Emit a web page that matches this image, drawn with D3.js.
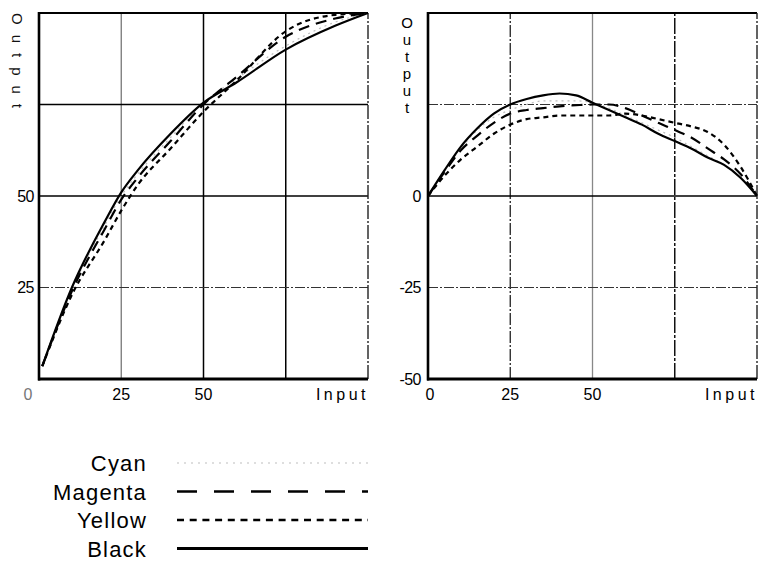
<!DOCTYPE html>
<html><head><meta charset="utf-8">
<script src="https://cdn.jsdelivr.net/npm/d3@7"></script>
<style>
html,body{margin:0;padding:0;background:#fff;}
svg{display:block;font-family:Arial,"Liberation Sans",sans-serif;}
</style></head>
<body><svg id="c" width="761" height="565"></svg>
<script>
// ---------- data ----------
const seriesNames = ["Cyan","Magenta","Yellow","Black"];
const inputsL = [1,10,20,25,30,40,50,60,75,90,100];
const cyanL    = [3.5,24.5,42,50,56,66,75.5,82,91,97.5,100];
const magentaL = [3.5,24,41,49,55,65,75,82.5,93.5,98.5,100];
const yellowL  = [3.5,23,38,46,53,63,73,81.5,95,99.5,100];
const blackL   = [3.5,25,43,51,57,67,75.5,81,90,96.5,100];

const inputsR  = [0,5,10,15,20,25,30,35,40,45,50,55,60,65,70,75,80,85,90,95,100];
const cyanR    = [0,7,13,18,21.5,23.5,25,26,26,26,25.5,24,22,20,18,16,13.5,11,8.5,5,0];
const magentaR = [0,6.5,12.5,16.5,20,22.5,23.5,24,24.5,24.8,25,25,24,22,20,18,16,13,10,6,0];
const yellowR  = [0,5.5,10,13.5,17,19.5,21,21.5,22,22,22,22,22.5,22,21,20,19,17.5,14,8,0];
const blackR   = [0,7,13.5,18.5,22.5,25,26.5,27.5,28,27.5,25.5,23.5,21.5,19.5,17,15,13,10.5,8.5,5,0];

const xTicksL = [0,25,50];
const yTicksL = [25,50];
const xTicksR = [0,25,50];
const yTicksR = [0,-25,-50];
const axisTitleX = "Input";
const axisTitleY = "Output";

// ---------- styles ----------
const lineStyle = {
  Cyan:    {stroke:"#bdbdbd", width:1.2, dash:"2,4",  legendDash:"2,5",  legendWidth:1.2},
  Magenta: {stroke:"#000", width:2.2, dash:"11,7", legendDash:"20,17", legendWidth:2.6},
  Yellow:  {stroke:"#000", width:2.2, dash:"5,4",  legendDash:"7,5.7", legendWidth:2.6},
  Black:   {stroke:"#000", width:2.2, dash:null,   legendDash:null,    legendWidth:3.2}
};

const svg = d3.select("#c");

function panel(opt){
  const x = d3.scaleLinear().domain([0,100]).range([opt.x0,opt.x1]);
  const y = d3.scaleLinear().domain(opt.ydom).range([379,13]);
  const g = svg.append("g");
  // grid
  opt.vgrid.forEach(v=>{
    g.append("line").attr("x1",x(v.v)).attr("x2",x(v.v)).attr("y1",y(opt.ydom[0])).attr("y2",y(opt.ydom[1]))
      .attr("stroke",v.c).attr("stroke-width",v.w).attr("stroke-dasharray",v.d);
  });
  opt.hgrid.forEach(v=>{
    g.append("line").attr("x1",x(0)).attr("x2",x(100)).attr("y1",y(v.v)).attr("y2",y(v.v))
      .attr("stroke",v.c).attr("stroke-width",v.w).attr("stroke-dasharray",v.d);
  });
  // frame
  g.append("line").attr("x1",x(0)).attr("x2",x(100)).attr("y1",y(opt.ydom[1])).attr("y2",y(opt.ydom[1]))
    .attr("stroke","#000").attr("stroke-width",2);
  g.append("line").attr("x1",x(100)).attr("x2",x(100)).attr("y1",y(opt.ydom[0])).attr("y2",y(opt.ydom[1]))
    .attr("stroke","#222").attr("stroke-width",1.4).attr("stroke-dasharray","14,2,2,2");
  g.append("line").attr("x1",x(0)).attr("x2",x(0)).attr("y1",y(opt.ydom[0])+1.5).attr("y2",y(opt.ydom[1])-1)
    .attr("stroke","#000").attr("stroke-width",2.6);
  g.append("line").attr("x1",x(0)-1).attr("x2",x(100)).attr("y1",y(opt.ydom[0])).attr("y2",y(opt.ydom[0]))
    .attr("stroke","#000").attr("stroke-width",3);
  // curves
  const line = d3.line().x(d=>x(d[0])).y(d=>y(d[1])).curve(d3.curveMonotoneX);
  seriesNames.forEach(n=>{
    const vals = opt.series[n];
    const pts = opt.inputs.map((v,i)=>[v,vals[i]]);
    const s = lineStyle[n];
    g.append("path").attr("d",line(pts)).attr("fill","none").attr("stroke",s.stroke)
      .attr("stroke-width",s.width).attr("stroke-dasharray",s.dash).attr("stroke-linecap","butt");
  });
  // tick labels
  opt.xticks.forEach(t=>{
    g.append("text").attr("x",x(t)+(t===0?opt.zeroDx:0)).attr("y",400).attr("text-anchor","middle")
      .attr("font-size",16).attr("fill",t===0&&opt.zeroFaint?"#777":"#000").text(t);
  });
  g.append("text").attr("x",x(100)+1).attr("y",400).attr("text-anchor","end")
    .attr("font-size",16).attr("letter-spacing",3.5).text(axisTitleX);
  opt.yticks.forEach(t=>{
    g.append("text").attr("x",x(0)-opt.ylabDx).attr("y",y(t)+5.5).attr("text-anchor","end")
      .attr("font-size",16).attr("letter-spacing",-0.5).text(String(t).replace("-","\u2011"));
  });
  return {x,y,g};
}

panel({x0:39,x1:368,ydom:[0,100],inputs:inputsL,
  series:{Cyan:cyanL,Magenta:magentaL,Yellow:yellowL,Black:blackL},
  xticks:xTicksL,yticks:yTicksL,zeroDx:-11,zeroFaint:true,ylabDx:5,
  vgrid:[{v:25,c:"#777",w:1.3,d:null},{v:50,c:"#000",w:1.5,d:null},{v:75,c:"#000",w:1.5,d:null}],
  hgrid:[{v:25,c:"#333",w:1.2,d:"10,2,2,2"},{v:50,c:"#000",w:1.5,d:null},{v:75,c:"#000",w:1.5,d:null}]
});
panel({x0:428,x1:757,ydom:[-50,50],inputs:inputsR,
  series:{Cyan:cyanR,Magenta:magentaR,Yellow:yellowR,Black:blackR},
  xticks:xTicksR,yticks:yTicksR,zeroDx:2,zeroFaint:false,ylabDx:7,
  vgrid:[{v:25,c:"#222",w:1.3,d:"12,2,2,2"},{v:50,c:"#888",w:1.3,d:null},{v:75,c:"#111",w:1.5,d:"16,2,3,2"}],
  hgrid:[{v:25,c:"#333",w:1.2,d:"10,2,2,2"},{v:0,c:"#000",w:1.6,d:null},{v:-25,c:"#333",w:1.2,d:"10,2,2,2"}]
});

// Y axis titles
svg.append("text").attr("transform","translate(12,13) rotate(90)")
  .attr("font-size",15).attr("fill","#111").attr("letter-spacing",10).text(axisTitleY);
svg.append("g").selectAll("text").data(axisTitleY.split("")).join("text")
  .attr("x",407).attr("y",(d,i)=>28+i*17).attr("text-anchor","middle").attr("font-size",15).text(d=>d);

// legend
const leg = svg.append("g");
seriesNames.forEach((n,i)=>{
  const by = 471 + i*28.5;
  leg.append("text").attr("x",147).attr("y",by).attr("text-anchor","end")
    .attr("font-size",22).attr("letter-spacing",1.2).text(n);
  const s = lineStyle[n];
  leg.append("line").attr("x1",177).attr("x2",368).attr("y1",by-8).attr("y2",by-8)
    .attr("stroke",s.stroke).attr("stroke-width",s.legendWidth).attr("stroke-dasharray",s.legendDash);
});
</script></body></html>
